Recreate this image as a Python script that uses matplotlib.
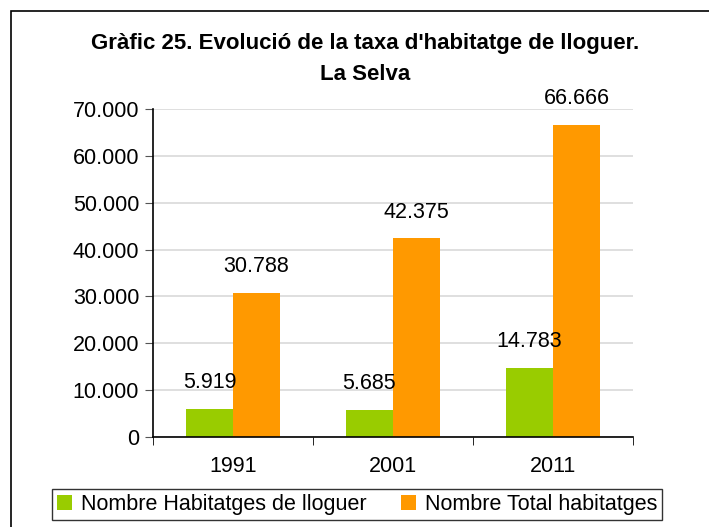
import matplotlib
matplotlib.use("Agg")
import matplotlib.pyplot as plt
from matplotlib.patches import Rectangle
import numpy as np

plt.rcParams['font.family'] = ['Liberation Sans', 'DejaVu Sans']

years = ['1991', '2001', '2011']
lloguer = [5919, 5685, 14783]
total = [30788, 42375, 66666]
series_names = ['Nombre Habitatges de lloguer', 'Nombre Total habitatges']
title = "Gràfic 25. Evolució de la taxa d'habitatge de lloguer.\nLa Selva"

W, H = 709, 527
FS = 15.5
fig = plt.figure(figsize=(W / 100, H / 100), dpi=100)

# outer frame
fig.patches.append(Rectangle((11 / W, -0.1), 1.2, 1 - 11 / H + 0.1, transform=fig.transFigure,
                             fill=False, edgecolor='black', linewidth=1.2, clip_on=False))

ax = fig.add_axes([153 / W, 1 - 437 / H, (633 - 153) / W, (437 - 109) / H])

x = np.arange(len(years))
bw = 0.29
off = 0.147
b1 = ax.bar(x - off, lloguer, bw, color='#99CC00', label=series_names[0], zorder=2)
b2 = ax.bar(x + off, total, bw, color='#FF9900', label=series_names[1], zorder=2)

def fmt(v):
    return f"{v:,.0f}".replace(',', '.')

for bars in (b1, b2):
    for r in bars:
        ax.annotate(fmt(r.get_height()), (r.get_x() + r.get_width() / 2, r.get_height()),
                    xytext=(0, 19), textcoords='offset points', ha='center', va='center',
                    fontsize=FS, zorder=3)

ax.set_xlim(-0.5, 2.5)
ax.set_ylim(0, 70000)
yt = np.arange(0, 70001, 10000)
ax.set_yticks(yt)
ax.set_yticklabels([fmt(v) for v in yt], fontsize=FS)
ax.yaxis.grid(True, color='#D9D9D9', linewidth=1.2, zorder=0)
ax.set_axisbelow(True)

ax.set_xticks(x)
ax.set_xticklabels(years, fontsize=FS)
ax.tick_params(axis='x', length=0, pad=14)
ax.set_xticks([-0.5, 0.5, 1.5, 2.5], minor=True)
ax.tick_params(axis='x', which='minor', length=6, direction='out', color='black')
ax.tick_params(axis='y', length=6, direction='out', color='#555555', pad=4)

for s in ('top', 'right'):
    ax.spines[s].set_visible(False)
ax.spines['left'].set_linewidth(1.2)
ax.spines['bottom'].set_linewidth(1.2)

fig.text(365 / W, 1 - 59 / H, title, ha='center', va='center', fontsize=16,
         fontweight='bold', linespacing=1.6)

leg = fig.legend(handles=[b1, b2], loc='center', bbox_to_anchor=((50 + 664) / 2 / W, 1 - 504.5 / H),
                 ncol=2, fontsize=FS, frameon=True, fancybox=False, edgecolor='black',
                 handlelength=0.7, handleheight=0.7, handletextpad=0.4, columnspacing=1.6,
                 borderpad=0.25)
leg.get_frame().set_linewidth(1.0)

fig.savefig('out.png', dpi=100)
